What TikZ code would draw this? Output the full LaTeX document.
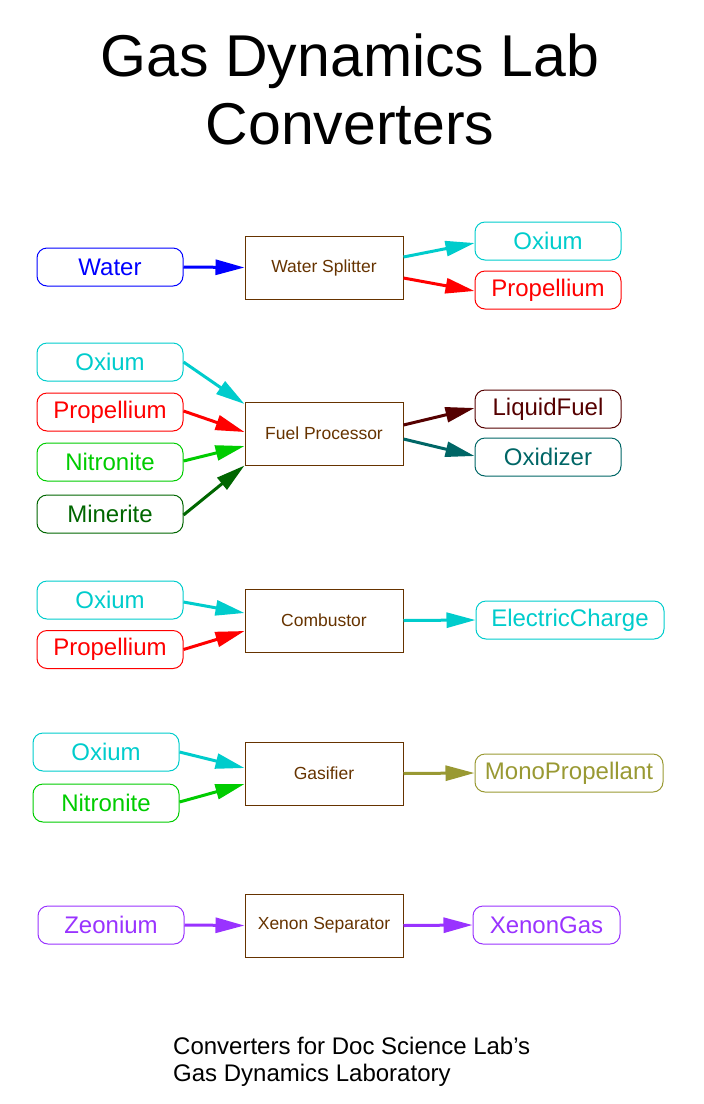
\documentclass[tikz,border=0pt]{standalone}
\usepackage{fontspec}
\setmainfont{Liberation Sans}
\usetikzlibrary{arrows.meta}
\definecolor{cBlue}{HTML}{0000FF}
\definecolor{cCyan}{HTML}{00CCCC}
\definecolor{cRed}{HTML}{FF0000}
\definecolor{cGreen}{HTML}{00CC00}
\definecolor{cDkGreen}{HTML}{006600}
\definecolor{cLiquid}{HTML}{550000}
\definecolor{cTeal}{HTML}{006666}
\definecolor{cOlive}{HTML}{999933}
\definecolor{cPurple}{HTML}{9933FF}
\definecolor{cBrown}{HTML}{663300}
\tikzset{
  res/.style={draw=#1, text=#1, line width=1pt, rounded corners=10pt,
    minimum width=146pt, minimum height=38pt, inner sep=0pt,
    font=\fontsize{24}{28}\selectfont},
  conv/.style={draw=cBrown, text=cBrown, line width=1pt,
    minimum width=158pt, minimum height=63pt, inner sep=0pt,
    font=\fontsize{17.5}{20}\selectfont},
  flow/.style={draw=#1, line width=3pt, -{Triangle[length=29pt,width=15pt]}, fill=#1},
}
\begin{document}
\begin{tikzpicture}[x=1pt,y=-1pt]
\useasboundingbox (0,0) rectangle (704,1104);
% title
\node[anchor=base, font=\fontsize{59}{68}\selectfont, inner sep=0pt] (t1) at (350,76) {Gas Dynamics Lab};
\node[anchor=base, font=\fontsize{59}{68}\selectfont, inner sep=0pt] (t2) at (350,144) {Converters};
% group 1
\node[conv] (ws) at (324,267.5) {Water Splitter};
\node[res=cBlue] (wsin) at (110,267) {Water};
\node[res=cCyan] (wsox) at (548,241) {Oxium};
\node[res=cRed] (wspr) at (548,290) {Propellium};
\draw[flow=cBlue] (wsin.east) -- (ws.west);
\draw[flow=cCyan] ([yshift=10.5pt]ws.east) -- ([yshift=-2pt]wsox.west);
\draw[flow=cRed] ([yshift=-10.5pt]ws.east) -- ([yshift=-1pt]wspr.west);
% group 2
\node[conv] (fp) at (324,433.5) {Fuel Processor};
\node[res=cCyan] (fpox) at (110,362) {Oxium};
\node[res=cRed] (fppr) at (110,412) {Propellium};
\node[res=cGreen] (fpni) at (110,462) {Nitronite};
\node[res=cDkGreen] (fpmi) at (110,514) {Minerite};
\node[res=cLiquid] (fplf) at (548,409) {LiquidFuel};
\node[res=cTeal] (fpoz) at (548,457) {Oxidizer};
\draw[flow=cCyan] (fpox.east) -- ([yshift=29.5pt]fp.west);
\draw[flow=cRed] ([yshift=1pt]fppr.east) -- ([yshift=1.5pt]fp.west);
\draw[flow=cGreen] ([yshift=1pt]fpni.east) -- ([yshift=-12.5pt]fp.west);
\draw[flow=cDkGreen] ([yshift=-1pt]fpmi.east) -- (fp.south west);
\draw[flow=cLiquid] ([yshift=8.5pt]fp.east) -- ([yshift=1pt]fplf.west);
\draw[flow=cTeal] ([yshift=-5.5pt]fp.east) -- ([yshift=1pt]fpoz.west);
% group 3
\node[conv] (cb) at (324,620.5) {Combustor};
\node[res=cCyan] (cbox) at (110,600) {Oxium};
\node[res=cRed] (cbpr) at (110,649.5) {Propellium};
\node[res=cCyan, minimum width=188pt] (cbec) at (570,620) {ElectricCharge};
\draw[flow=cCyan] ([yshift=-2pt]cbox.east) -- ([yshift=7.5pt]cb.west);
\draw[flow=cRed] (cbpr.east) -- ([yshift=-10.5pt]cb.west);
\draw[flow=cCyan] (cb.east) -- (cbec.west);
% group 4
\node[conv] (gs) at (324,773.5) {Gasifier};
\node[res=cCyan] (gsox) at (106,752) {Oxium};
\node[res=cGreen] (gsni) at (106,803) {Nitronite};
\node[res=cOlive, minimum width=188pt] (gsmp) at (569,773) {MonoPropellant};
\draw[flow=cCyan] (gsox.east) -- ([yshift=5.5pt]gs.west);
\draw[flow=cGreen] ([yshift=1pt]gsni.east) -- ([yshift=-10.5pt]gs.west);
\draw[flow=cOlive] (gs.east) -- (gsmp.west);
% group 5
\node[conv] (xs) at (324,925.5) {Xenon Separator};
\node[res=cPurple] (xsze) at (111,925) {Zeonium};
\node[res=cPurple, minimum width=147pt] (xsxg) at (546.5,925) {XenonGas};
\draw[flow=cPurple] (xsze.east) -- (xs.west);
\draw[flow=cPurple] (xs.east) -- (xsxg.west);
% footer
\node[anchor=base west, inner sep=0pt, font=\fontsize{24}{28}\selectfont] (f1) at (173,1054) {Converters for Doc Science Lab’s};
\node[anchor=base west, inner sep=0pt, font=\fontsize{24}{28}\selectfont] (f2) at (173,1081) {Gas Dynamics Laboratory};
\end{tikzpicture}
\end{document}
